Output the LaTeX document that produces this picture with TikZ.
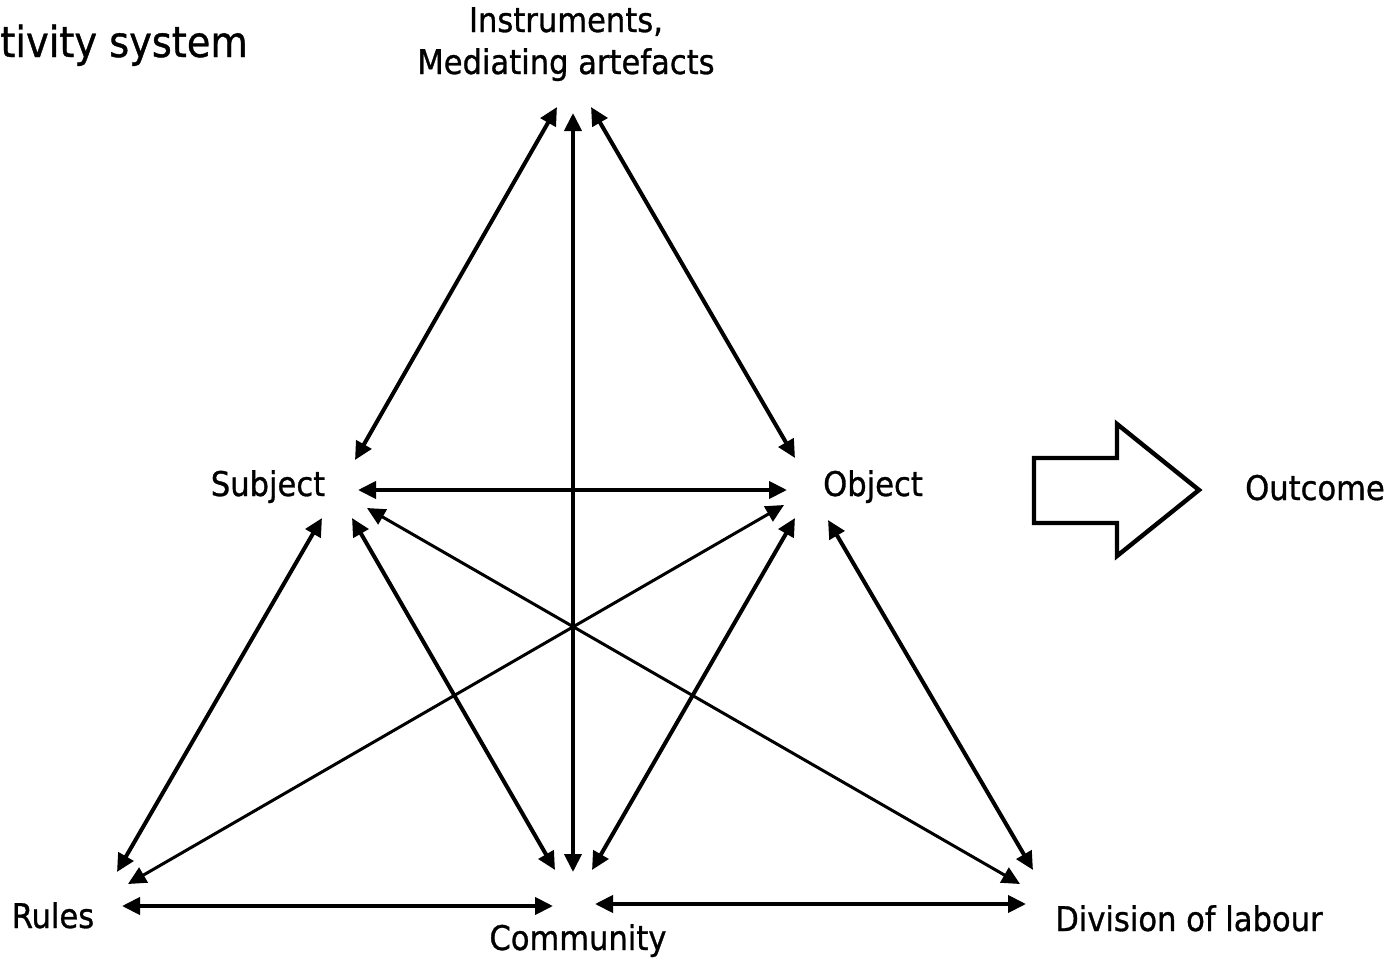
\documentclass[tikz,border=0pt]{standalone}
\usepackage{fontspec}
\setmainfont{DejaVu Sans Condensed}[BoldFont=DejaVu Sans Condensed, BoldFeatures={FakeBold=0.9}]
\usetikzlibrary{arrows.meta}
\begin{document}
\begin{tikzpicture}[x=0.5pt,y=-0.5pt,
  lbl/.style={font=\fontsize{17}{20}\selectfont\bfseries, inner sep=0pt, anchor=base},
  link/.style={{Triangle[length=9pt,width=8.5pt]}-{Triangle[length=9pt,width=8.5pt]}, line width=2pt},
  cross/.style={link, line width=1.5pt},
  bigarrow/.style={draw, line width=2.2pt, line join=miter, fill=white}]
\useasboundingbox (0,0) rectangle (1389,959);

% labels
\node[lbl, anchor=base west, font=\fontsize{21.3}{24}\selectfont\bfseries] (title) at (0,57) {tivity system};
\node[lbl] (instr) at (566,32) {Instruments,};
\node[lbl] (med) at (566,74) {Mediating artefacts};
\node[lbl] (subj) at (268,496) {Subject};
\node[lbl] (obj) at (873,496) {Object};
\node[lbl] (out) at (1315,500) {Outcome};
\node[lbl] (rules) at (53,928) {Rules};
\node[lbl] (comm) at (578,950) {Community};
\node[lbl] (div) at (1189,931) {Division of labour};

% arrow end points around each label
\coordinate (iL) at (557,107);
\coordinate (iC) at (573,113);
\coordinate (iR) at (591,107);
\coordinate (sT) at (355,460);
\coordinate (sH) at (358,490);
\coordinate (sD) at (367,508);
\coordinate (sR) at (322,518);
\coordinate (sC) at (352,518);
\coordinate (oT) at (795,458);
\coordinate (oH) at (787,490);
\coordinate (oR) at (784,505);
\coordinate (oC) at (795,518);
\coordinate (oD) at (828,520);
\coordinate (rS) at (117,872);
\coordinate (rO) at (128,884);
\coordinate (rH) at (122,906);
\coordinate (cS) at (555,870);
\coordinate (cI) at (573,872);
\coordinate (cO) at (592,870);
\coordinate (cL) at (553,906);
\coordinate (cR) at (595,904);
\coordinate (dO) at (1033,870);
\coordinate (dS) at (1020,884);
\coordinate (dH) at (1026,904);

% connections
\draw[link] (iL) -- (sT);
\draw[link] (iR) -- (oT);
\draw[link] (iC) -- (cI);
\draw[link] (sH) -- (oH);
\draw[link] (sR) -- (rS);
\draw[link] (sC) -- (cS);
\draw[cross] (sD) -- (dS);
\draw[cross] (oR) -- (rO);
\draw[link] (oC) -- (cO);
\draw[link] (oD) -- (dO);
\draw[link] (rH) -- (cL);
\draw[link] (cR) -- (dH);

% block arrow towards the outcome
\draw[bigarrow] (1034,458) -- (1117,458) -- (1117,424) -- (1199,490)
  -- (1117,556) -- (1117,523) -- (1034,523) -- cycle;
\end{tikzpicture}
\end{document}
